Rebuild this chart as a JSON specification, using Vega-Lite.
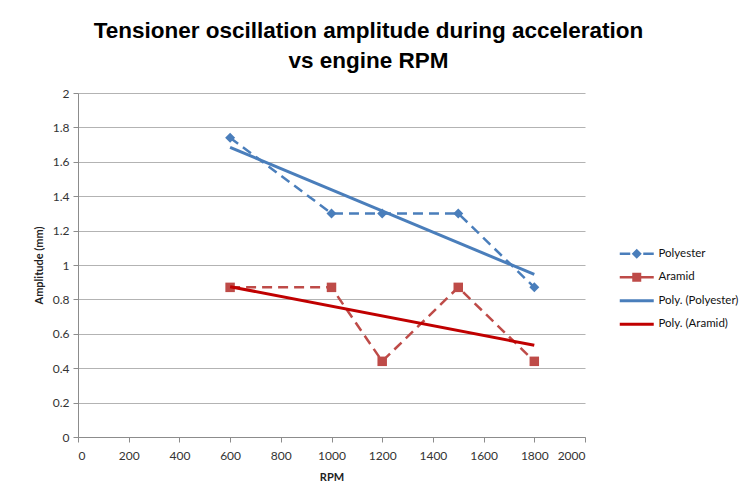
{
  "$schema": "https://vega.github.io/schema/vega-lite/v6.json",
  "autosize": {"type": "none"},
  "padding": {"left": 78, "top": 93, "right": 162, "bottom": 59},
  "width": 507,
  "height": 344,
  "background": "white",
  "title": {
    "text": ["Tensioner oscillation amplitude during acceleration", "vs engine RPM"],
    "font": "Liberation Sans Narrow, Arial Narrow, Liberation Sans",
    "fontWeight": "bold",
    "fontSize": 22.5,
    "color": "black",
    "anchor": "middle",
    "dx": 37,
    "offset": 15,
    "lineHeight": 30
  },
  "config": {
    "view": {"stroke": null},
    "axis": {
      "labelFont": "Lato",
      "labelFontSize": 12,
      "labelColor": "#333333",
      "labelOverlap": false,
      "titleFont": "Lato",
      "titleFontSize": 11,
      "titleFontWeight": "bold",
      "titleColor": "#222222",
      "domainColor": "#8C8C8C",
      "tickColor": "#8C8C8C",
      "tickSize": 5,
      "gridColor": "#B3B3B3",
      "gridWidth": 1
    },
    "axisY": {"tickCount": 10},
    "legend": {
      "labelFont": "Lato",
      "labelFontSize": 11.5,
      "labelColor": "#111111"
    }
  },
  "datasets": {
    "amplitude": [
      {"rpm": 600, "amp": 1.74, "series": "Polyester", "trend": "Poly. (Polyester)"},
      {"rpm": 1000, "amp": 1.30, "series": "Polyester", "trend": "Poly. (Polyester)"},
      {"rpm": 1200, "amp": 1.30, "series": "Polyester", "trend": "Poly. (Polyester)"},
      {"rpm": 1500, "amp": 1.30, "series": "Polyester", "trend": "Poly. (Polyester)"},
      {"rpm": 1800, "amp": 0.87, "series": "Polyester", "trend": "Poly. (Polyester)"},
      {"rpm": 600, "amp": 0.87, "series": "Aramid", "trend": "Poly. (Aramid)"},
      {"rpm": 1000, "amp": 0.87, "series": "Aramid", "trend": "Poly. (Aramid)"},
      {"rpm": 1200, "amp": 0.44, "series": "Aramid", "trend": "Poly. (Aramid)"},
      {"rpm": 1500, "amp": 0.87, "series": "Aramid", "trend": "Poly. (Aramid)"},
      {"rpm": 1800, "amp": 0.44, "series": "Aramid", "trend": "Poly. (Aramid)"}
    ],
    "legendKeys": [
      {"key": "Polyester", "rpm": 600, "amp": 1.74},
      {"key": "Aramid", "rpm": 600, "amp": 0.87},
      {"key": "Poly. (Polyester)", "rpm": 600, "amp": 1.74},
      {"key": "Poly. (Aramid)", "rpm": 600, "amp": 0.87}
    ]
  },
  "resolve": {
    "scale": {"color": "independent", "shape": "independent"},
    "legend": {"color": "independent", "shape": "independent"}
  },
  "encoding": {
    "x": {
      "field": "rpm", "type": "quantitative",
      "scale": {"domain": [0, 2000], "nice": false},
      "axis": {"title": "RPM", "tickCount": 10, "format": "d", "grid": false, "labelOverlap": false, "labelPadding": 8, "titlePadding": 10}
    },
    "y": {
      "field": "amp", "type": "quantitative",
      "scale": {"domain": [0, 2], "nice": false},
      "axis": {"title": "Amplitude (mm)", "tickCount": 10, "format": "~g", "grid": true, "labelOverlap": false, "labelPadding": 4, "titlePadding": 8}
    }
  },
  "layer": [
    {
      "data": {"name": "amplitude"},
      "mark": {"type": "line", "strokeWidth": 2.5, "strokeDash": [10, 6]},
      "encoding": {
        "color": {
          "field": "series", "type": "nominal",
          "scale": {"domain": ["Polyester", "Aramid"], "range": ["#4A7EBB", "#BE4B48"]},
          "legend": null
        },
        "detail": {"field": "series"}
      }
    },
    {
      "data": {"name": "amplitude"},
      "transform": [{"filter": "datum.series === 'Polyester'"}],
      "mark": {"type": "point", "filled": true, "opacity": 1, "size": 100, "shape": "diamond", "color": "#4A7EBB"}
    },
    {
      "data": {"name": "amplitude"},
      "transform": [{"filter": "datum.series === 'Aramid'"}],
      "mark": {"type": "point", "filled": true, "opacity": 1, "size": 90, "shape": "square", "color": "#BE4B48"}
    },
    {
      "data": {"name": "amplitude"},
      "transform": [
        {"regression": "amp", "on": "rpm", "groupby": ["trend"], "method": "linear"}
      ],
      "mark": {"type": "line", "strokeWidth": 3},
      "encoding": {
        "color": {
          "field": "trend", "type": "nominal",
          "scale": {"domain": ["Poly. (Polyester)", "Poly. (Aramid)"], "range": ["#4A7EBB", "#C00000"]},
          "legend": null
        }
      }
    },
    {
      "data": {"name": "legendKeys"},
      "mark": {"type": "point", "filled": true, "opacity": 1, "size": 0, "strokeWidth": 0},
      "encoding": {
        "color": {
          "field": "key", "type": "nominal",
          "scale": {
            "domain": ["Polyester", "Aramid", "Poly. (Polyester)", "Poly. (Aramid)"],
            "range": ["#4A7EBB", "#BE4B48", "#4A7EBB", "#C00000"]
          },
          "legend": {
            "title": null,
            "orient": "none",
            "legendX": 553,
            "legendY": 155,
            "padding": 0,
            "symbolSize": 100,
            "symbolStrokeWidth": 0,
            "labelOffset": 16,
            "rowPadding": 10.5
          }
        },
        "shape": {
          "field": "key", "type": "nominal",
          "scale": {
            "domain": ["Polyester", "Aramid", "Poly. (Polyester)", "Poly. (Aramid)"],
            "range": [
              "M-3.4,-0.25H-1.3V0.25H-3.4Z M1.3,-0.25H3.4V0.25H1.3Z M0,-1L1,0L0,1L-1,0Z",
              "M-3.4,-0.25H-0.8V0.25H-3.4Z M0.8,-0.25H3.4V0.25H0.8Z M-0.9,-0.9H0.9V0.9H-0.9Z",
              "M-3.4,-0.3H3.4V0.3H-3.4Z",
              "M-3.4,-0.3H3.4V0.3H-3.4Z"
            ]
          },
          "legend": {
            "title": null,
            "orient": "none",
            "legendX": 553,
            "legendY": 155,
            "padding": 0,
            "symbolSize": 100,
            "symbolStrokeWidth": 0,
            "labelOffset": 16,
            "rowPadding": 10.5
          }
        }
      }
    }
  ]
}
